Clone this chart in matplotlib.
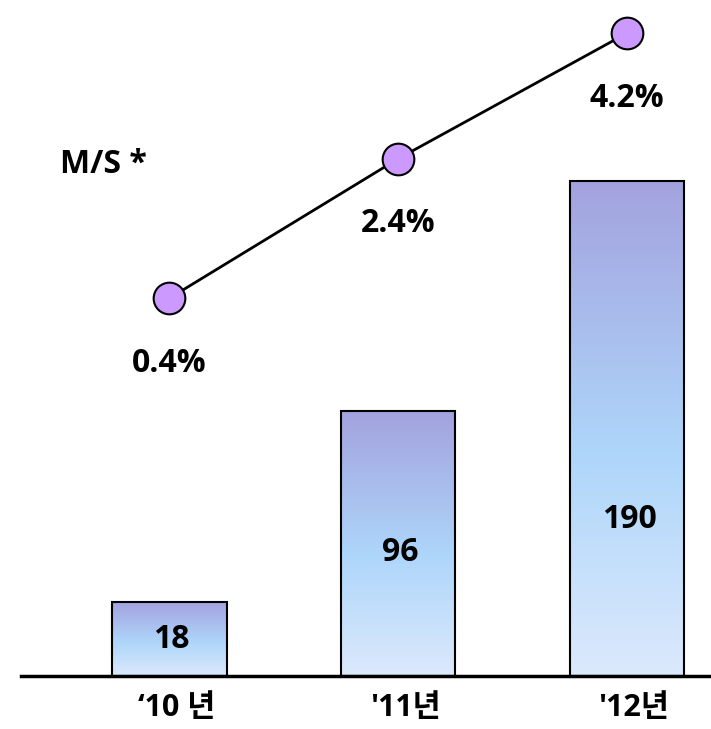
import numpy as np
import matplotlib.pyplot as plt
from matplotlib.colors import LinearSegmentedColormap

plt.rcParams['font.family'] = ['Open Sans', 'Noto Sans CJK KR', 'DejaVu Sans']

# data
years = ['\u201810 년', "'11년", "'12년"]
sales = [18, 96, 190]
share = [0.4, 2.4, 4.2]
share_labels = ['0.4%', '2.4%', '4.2%']

fig = plt.figure(figsize=(7.11, 7.29), dpi=100)
ax = fig.add_axes([0.0295, 0.0727, 0.9705, 0.9273])
x = np.arange(len(sales))

# bars with a vertical gradient (purple top -> light blue -> pale bottom)
grad = LinearSegmentedColormap.from_list(
    'bar', [(0.0, '#dce9fc'), (0.45, '#aed6fa'), (1.0, '#a3a2de')])
base = -12.4
bars = ax.bar(x, np.array(sales) - base, bottom=base, width=0.5,
              facecolor='none', edgecolor='black', linewidth=1.5, zorder=3)
for b in bars:
    x0, y0 = b.get_x(), b.get_y()
    img = ax.imshow(np.linspace(0, 1, 256).reshape(-1, 1), cmap=grad,
                    origin='lower', aspect='auto', zorder=2,
                    extent=[x0, x0 + b.get_width(), y0, y0 + b.get_height()])
    img.set_clip_path(b)

label_pos = [0.49, 0.465, 0.315]
for xi, v, f in zip(x, sales, label_pos):
    ax.text(xi + 0.01, base + (v - base) * f, str(v), ha='center', va='center',
            fontsize=23, fontweight='bold', zorder=4)

ax.set_xlim(-0.649, 2.367)
ax.set_ylim(base, 263.8)
ax.set_yticks([])
for s in ['top', 'right', 'left']:
    ax.spines[s].set_visible(False)
ax.spines['bottom'].set_linewidth(2.5)
ax.set_xticks(x + 0.03)
ax.set_xticklabels(years, fontsize=22, fontweight='bold')
ax.tick_params(axis='x', length=0, pad=12)

# market share line on its own scale
ax2 = ax.twinx()
ax2.plot(x, share, color='black', linewidth=2, zorder=5)
ax2.scatter(x, share, s=520, marker='o', facecolor='#cc99ff',
            edgecolor='black', linewidth=1.5, zorder=6)
for xi, v, t in zip(x, share, share_labels):
    ax2.annotate(t, (xi, v), xytext=(0, -47), textcoords='offset points',
                 ha='center', va='center', fontsize=23, fontweight='bold')
ax2.set_ylim(-5.017, 4.675)
ax2.set_yticks([])
ax2.axis('off')

fig.text(0.084, 0.774, 'M/S *', fontsize=23, fontweight='bold', va='center')

fig.savefig('out.png', dpi=100)
